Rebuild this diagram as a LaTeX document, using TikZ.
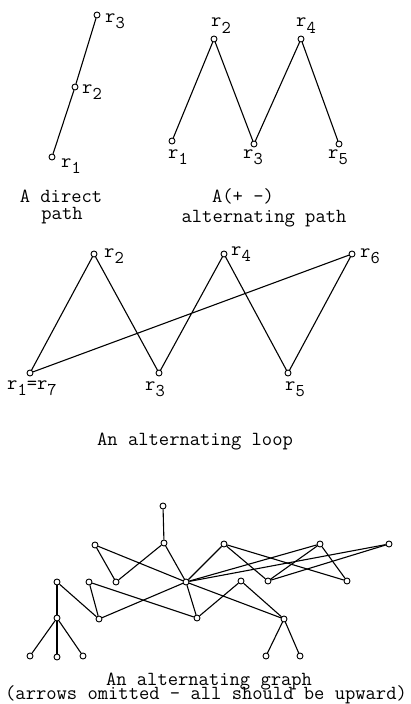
\documentclass[tikz,border=0pt]{standalone}
\usepackage{fontspec}
\newcommand\rsub[1]{r\raisebox{-6pt}{\fontsize{18}{18}\selectfont #1}}
\begin{document}
\begin{tikzpicture}[x=1pt,y=-1pt,
  dot/.style={circle, draw, fill=white, minimum size=6pt, inner sep=0pt, line width=0.9pt},
  lab/.style={inner sep=0pt, anchor=base west, font=\fontsize{20}{20}\selectfont\ttfamily},
  captext/.style={inner sep=0pt, anchor=base, font=\fontsize{20}{20}\selectfont\ttfamily},
  conn/.style={line width=1.1pt}]
\useasboundingbox (0,0) rectangle (411,704);
% direct path
\node[dot] (d1) at (52,157) {};
\node[dot] (d2) at (75,87) {};
\node[dot] (d3) at (97,15) {};
\draw[conn] (d1) -- (d2) -- (d3);
\node[lab] (ld3) at (105,22) {\rsub{3}};
\node[lab] (ld2) at (82,93) {\rsub{2}};
\node[lab] (ld1) at (61,167) {\rsub{1}};
\node[captext] (c1a) at (61,202) {A direct};
\node[captext] (c1b) at (62,219) {path};
% alternating path
\node[dot] (a1) at (172,141) {};
\node[dot] (a2) at (214,39) {};
\node[dot] (a3) at (254,144) {};
\node[dot] (a4) at (301,39) {};
\node[dot] (a5) at (339,144) {};
\draw[conn] (a1) -- (a2) -- (a3) -- (a4) -- (a5);
\node[lab] (la1) at (168,158) {\rsub{1}};
\node[lab] (la2) at (211,27) {\rsub{2}};
\node[lab] (la3) at (243,158) {\rsub{3}};
\node[lab] (la4) at (296,27) {\rsub{4}};
\node[lab] (la5) at (328,158) {\rsub{5}};
\node[captext] (c2a) at (243,202) {A(+ -)};
\node[captext] (c2b) at (264,222) {alternating path};
% loop
\node[dot] (l1) at (30,373) {};
\node[dot] (l2) at (94,254) {};
\node[dot] (l3) at (159,373) {};
\node[dot] (l4) at (224,254) {};
\node[dot] (l5) at (288,373) {};
\node[dot] (l6) at (352,254) {};
\draw[conn] (l1) -- (l2) -- (l3) -- (l4) -- (l5) -- (l6) -- (l1);
\node[lab] (ll2) at (104,257) {\rsub{2}};
\node[lab] (ll4) at (231,255) {\rsub{4}};
\node[lab] (ll6) at (360,257) {\rsub{6}};
\node[lab] (ll1) at (7,389) {\rsub{1}=\rsub{7}};
\node[lab] (ll3) at (145,390) {\rsub{3}};
\node[lab] (ll5) at (285,390) {\rsub{5}};
\node[captext] (c3) at (195,445) {An alternating loop};
% alternating graph
\node[dot] (T) at (163,506) {};
\node[dot] (A) at (95,545) {};
\node[dot] (B) at (164,543) {};
\node[dot] (C) at (224,544) {};
\node[dot] (D) at (320,544) {};
\node[dot] (E) at (389,544) {};
\node[dot] (F) at (116,582) {};
\node[dot] (G) at (186,582) {};
\node[dot] (H) at (268,581) {};
\node[dot] (I) at (347,581) {};
\node[dot] (J) at (57,582) {};
\node[dot] (K) at (89,582) {};
\node[dot] (L) at (241,581) {};
\node[dot] (M) at (57,618) {};
\node[dot] (N) at (99,619) {};
\node[dot] (O) at (197,618) {};
\node[dot] (P) at (284,619) {};
\node[dot] (Q1) at (30,656) {};
\node[dot] (Q2) at (57,657) {};
\node[dot] (Q3) at (83,656) {};
\node[dot] (R1) at (266,656) {};
\node[dot] (R2) at (300,656) {};
\draw[conn] (T) -- (B);
\draw[conn] (A) -- (F);
\draw[conn] (A) -- (G);
\draw[conn] (B) -- (F);
\draw[conn] (B) -- (G);
\draw[conn] (C) -- (G);
\draw[conn] (C) -- (H);
\draw[conn] (C) -- (I);
\draw[conn] (D) -- (G);
\draw[conn] (D) -- (H);
\draw[conn] (D) -- (I);
\draw[conn] (E) -- (G);
\draw[conn] (E) -- (H);
\draw[conn] (J) -- (M);
\draw[conn] (J) -- (N);
\draw[conn] (K) -- (N);
\draw[conn] (K) -- (O);
\draw[conn] (N) -- (G);
\draw[conn] (G) -- (O);
\draw[conn] (G) -- (P);
\draw[conn] (L) -- (O);
\draw[conn] (L) -- (P);
\draw[conn] (M) -- (Q1);
\draw[conn] (M) -- (Q2);
\draw[conn] (M) -- (Q3);
\draw[conn] (P) -- (R1);
\draw[conn] (P) -- (R2);
\node[captext] (c4a) at (209,685) {An alternating graph};
\node[captext] (c4b) at (206,699) {(arrows omitted - all should be upward)};
\end{tikzpicture}
\end{document}
